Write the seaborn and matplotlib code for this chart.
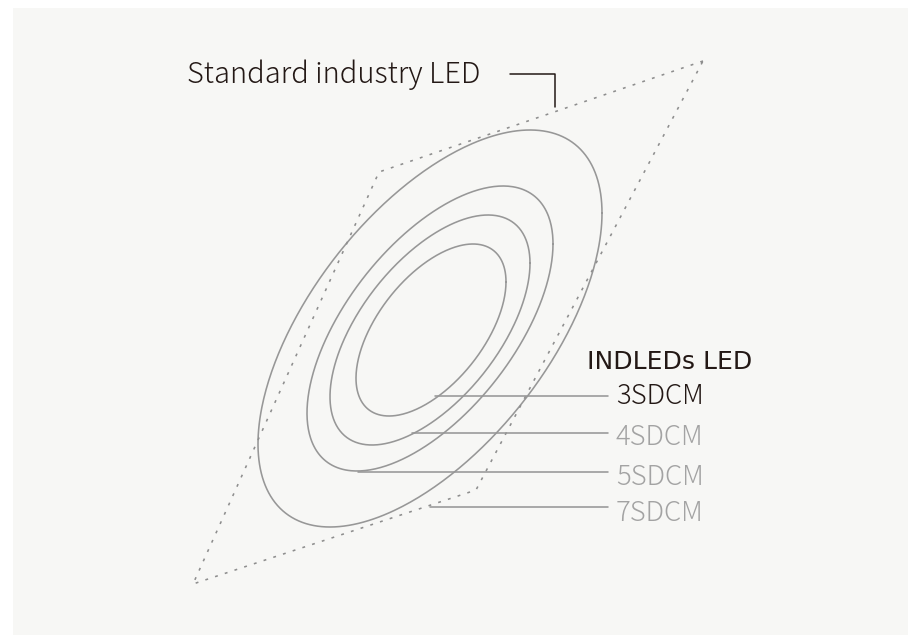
import numpy as np
import pandas as pd
import matplotlib
matplotlib.use("Agg")
import matplotlib.pyplot as plt
from matplotlib.patches import Rectangle
import seaborn as sns

# ---- data (pixel-space geometry) ----
labels = ["3SDCM", "4SDCM", "5SDCM", "7SDCM"]
label_colors = ["#231815", "#a3a3a3", "#a3a3a3", "#a3a3a3"]
ell_cx = [431, 430, 430, 430]
ell_cy = [330, 330, 328.5, 328.5]
ell_half_w = [75, 100, 123, 172]
ell_half_h = [86, 115, 142.5, 198.5]
ell_top_dx = [42, 58, 73, 100]

leader_y = [396, 432.7, 471.7, 506.7]
leader_x0 = [435, 412, 358, 430]
leader_x1 = [608, 608, 608, 608]
label_baseline = [404, 445, 485, 521]

quad_x = [703, 379, 193, 476, 703]
quad_y = [61, 172, 584, 490, 61]

std_leader_x = [510, 555, 555]
std_leader_y = [74.3, 74.3, 106.7]

W, H = 924, 635
sns.set_style("white")
fig = plt.figure(figsize=(W / 100, H / 100), dpi=100)
fig.patch.set_facecolor("white")
ax = fig.add_axes([0, 0, 1, 1])
ax.set_xlim(0, W)
ax.set_ylim(H, 0)
ax.axis("off")
ax.add_patch(Rectangle((13, 8), 895, 627, facecolor="#f7f7f5", edgecolor="none", zorder=0))

gray = "#979797"
t = np.linspace(0, 2 * np.pi, 400)
for cx, cy, hw, hh, dx in zip(ell_cx, ell_cy, ell_half_w, ell_half_h, ell_top_dx):
    C = np.array([[hw ** 2, -dx * hh], [-dx * hh, hh ** 2]])
    L = np.linalg.cholesky(C)
    pts = L @ np.vstack([np.cos(t), np.sin(t)])
    df = pd.DataFrame({"x": cx + pts[0], "y": cy + pts[1]})
    sns.lineplot(data=df, x="x", y="y", sort=False, estimator=None, ax=ax,
                 color=gray, linewidth=1.15, zorder=2)

# dotted quadrilateral (standard industry LED)
dq = pd.DataFrame({"x": quad_x, "y": quad_y})
sns.lineplot(data=dq, x="x", y="y", sort=False, estimator=None, ax=ax,
             color="#8e8e8e", linewidth=1.15, linestyle=(0, (1.8, 4.6)), zorder=2)

# leader lines to labels
for y, x0, x1, lab, col, yb in zip(leader_y, leader_x0, leader_x1, labels, label_colors, label_baseline):
    dl = pd.DataFrame({"x": [x0, x1], "y": [y, y]})
    sns.lineplot(data=dl, x="x", y="y", sort=False, estimator=None, ax=ax,
                 color=gray, linewidth=1.15, zorder=2)
    ax.text(616, yb, lab, color=col, fontsize=19.8, va="baseline", ha="left",
            family=["Noto Sans CJK JP", "DejaVu Sans"], fontweight="light")

ax.text(587, 369, "INDLEDs LED", color="#231815", fontsize=18, va="baseline", ha="left",
        family=["DejaVu Sans"], fontweight="normal")

ds = pd.DataFrame({"x": std_leader_x, "y": std_leader_y})
sns.lineplot(data=ds, x="x", y="y", sort=False, estimator=None, ax=ax,
             color="#231815", linewidth=1.1, zorder=2)
ax.text(187, 83.3, "Standard industry LED", color="#231815", fontsize=20.9, va="baseline",
        ha="left", family=["Noto Sans CJK JP", "DejaVu Sans"], fontweight="light")

fig.savefig("out.png", dpi=100, facecolor="white")
